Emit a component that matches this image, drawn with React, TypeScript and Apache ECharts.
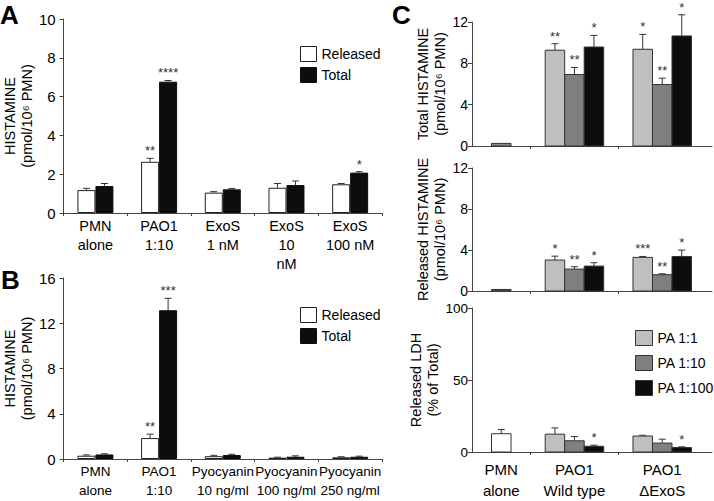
import React, { useEffect, useRef } from "react";
import * as echarts from "echarts";

// ---------- Panel A ----------
const A_CATEGORIES = ["PMN\nalone", "PAO1\n1:10", "ExoS\n1 nM", "ExoS\n10\nnM", "ExoS\n100 nM"];
const A_RELEASED = [1.18, 2.64, 1.05, 1.3, 1.48];
const A_RELEASED_ERR = [0.09, 0.18, 0.05, 0.22, 0.04];
const A_TOTAL = [1.39, 6.77, 1.22, 1.44, 2.08];
const A_TOTAL_ERR = [0.13, 0.06, 0.04, 0.21, 0.05];
const A_RELEASED_SIG = ["", "**", "", "", ""];
const A_TOTAL_SIG = ["", "****", "", "", "*"];
const A_Y_MAX = 10;
const A_Y_STEP = 2;

// ---------- Panel B ----------
const B_CATEGORIES = ["PMN\nalone", "PAO1\n1:10", "Pyocyanin\n10 ng/ml", "Pyocyanin\n100 ng/ml", "Pyocyanin\n250 ng/ml"];
const B_RELEASED = [0.29, 1.85, 0.25, 0.12, 0.15];
const B_RELEASED_ERR = [0.07, 0.35, 0.08, 0.04, 0.05];
const B_TOTAL = [0.4, 13.15, 0.35, 0.2, 0.2];
const B_TOTAL_ERR = [0.06, 1.05, 0.07, 0.08, 0.05];
const B_RELEASED_SIG = ["", "**", "", "", ""];
const B_TOTAL_SIG = ["", "***", "", "", ""];
const B_Y_MAX = 16;
const B_Y_STEP = 4;

// ---------- Panel C ----------
const C_GROUPS = ["PMN\nalone", "PAO1\nWild type", "PAO1\n\u0394ExoS"];
const C_GROUP_POS = [1, 3.5, 6.5];
const C_BOUNDARIES = [2, 5];
const C_X_MAX = 8.2;
const C_RATIOS = ["PA 1:1", "PA 1:10", "PA 1:100"];

// Total histamine
const CT_PMN = [0.25, null, null];
const CT_PMN_ERR = [0, null, null];
const CT_PA1 = [null, 9.27, 9.36];
const CT_PA1_ERR = [null, 0.63, 1.44];
const CT_PA1_SIG = ["", "**", "*"];
const CT_PA10 = [null, 6.92, 5.95];
const CT_PA10_ERR = [null, 0.68, 0.61];
const CT_PA10_SIG = ["", "**", "**"];
const CT_PA100 = [null, 9.58, 10.65];
const CT_PA100_ERR = [null, 1.12, 2.05];
const CT_PA100_SIG = ["", "*", "*"];

// Released histamine
const CR_PMN = [0.15, null, null];
const CR_PMN_ERR = [0, null, null];
const CR_PA1 = [null, 3.02, 3.28];
const CR_PA1_ERR = [null, 0.38, 0.09];
const CR_PA1_SIG = ["", "*", "***"];
const CR_PA10 = [null, 2.14, 1.59];
const CR_PA10_ERR = [null, 0.23, 0.09];
const CR_PA10_SIG = ["", "**", "**"];
const CR_PA100 = [null, 2.43, 3.37];
const CR_PA100_ERR = [null, 0.33, 0.62];
const CR_PA100_SIG = ["", "*", "*"];

// Released LDH
const CL_PMN = [12.7, null, null];
const CL_PMN_ERR = [2.9, null, null];
const CL_PA1 = [null, 12.4, 11.1];
const CL_PA1_ERR = [null, 4.3, 0.5];
const CL_PA1_SIG = ["", "", ""];
const CL_PA10 = [null, 7.8, 6.2];
const CL_PA10_ERR = [null, 2.9, 2.7];
const CL_PA10_SIG = ["", "", ""];
const CL_PA100 = [null, 4.0, 3.1];
const CL_PA100_ERR = [null, 0.7, 0.5];
const CL_PA100_SIG = ["", "*", "*"];

const C_HIST_MAX = 12;
const C_HIST_STEP = 4;
const C_LDH_MAX = 100;
const C_LDH_STEP = 50;

// ---------- styling ----------
const FONT = "Liberation Sans, Arial, Helvetica, sans-serif";
const AXIS_COLOR = "#444";
const TEXT_COLOR = "#000";
const AB_BAR_W = 18;
const C_BAR_W = 19.5;
const CAP_W = 7;
const C_COLORS = ["#bfbfbf", "#7f7f7f", "#0d0d0d"];

function yAxisCfg(
  gridIndex: number,
  max: number,
  step: number,
  name: string,
  nameGap: number,
  labelMargin: number,
  labelSize: number
) {
  return {
    type: "value",
    gridIndex,
    min: 0,
    max,
    interval: step,
    name,
    nameLocation: "middle",
    nameRotate: 90,
    nameGap,
    nameTextStyle: { fontFamily: FONT, fontSize: 14.5, lineHeight: 17, color: TEXT_COLOR },
    axisLine: { show: true, lineStyle: { color: AXIS_COLOR, width: 1 } },
    axisTick: { show: true, length: 4, lineStyle: { color: AXIS_COLOR } },
    axisLabel: { fontFamily: FONT, fontSize: labelSize, color: TEXT_COLOR, margin: labelMargin },
    splitLine: { show: false },
  };
}

function errorSeries(
  xAxisIndex: number,
  values: number[],
  errs: number[],
  sigs: string[],
  offset: number
) {
  return {
    type: "custom",
    xAxisIndex,
    yAxisIndex: xAxisIndex,
    z: 5,
    silent: true,
    encode: { x: 0, y: 1 },
    data: values.map((v, i) => [i, v, errs[i]]),
    renderItem: (params: any, api: any) => {
      const i = api.value(0);
      const v = api.value(1);
      const e = api.value(2);
      const top = api.coord([i, v]);
      const tip = api.coord([i, v + e]);
      const cx = top[0] + offset;
      const children: any[] = [];
      if (e > 0) {
        children.push({
          type: "line",
          shape: { x1: cx, y1: top[1], x2: cx, y2: tip[1] },
          style: { stroke: "#333", lineWidth: 1 },
        });
        children.push({
          type: "line",
          shape: { x1: cx - CAP_W / 2, y1: tip[1], x2: cx + CAP_W / 2, y2: tip[1] },
          style: { stroke: "#333", lineWidth: 1 },
        });
      }
      const s = sigs[params.dataIndex];
      if (s) {
        children.push({
          type: "text",
          x: cx,
          y: tip[1] - 1,
          style: { text: s, align: "center", verticalAlign: "bottom", fontSize: 13, fontFamily: FONT, fill: "#333" },
        });
      }
      return { type: "group", children };
    },
  };
}

function cSeries(
  name: string,
  axisIndex: number,
  values: (number | null)[],
  errs: (number | null)[],
  sigs: string[],
  slot: number,
  fill: string
) {
  const data: number[][] = [];
  values.forEach((v, g) => {
    if (v != null) data.push([C_GROUP_POS[g], v, (errs[g] as number) || 0, g]);
  });
  return {
    type: "custom",
    name,
    xAxisIndex: axisIndex,
    yAxisIndex: axisIndex,
    encode: { x: 0, y: 1 },
    itemStyle: { color: fill },
    data,
    renderItem: (params: any, api: any) => {
      const x = api.value(0);
      const v = api.value(1);
      const e = api.value(2);
      const g = api.value(3);
      const base = api.coord([x, 0]);
      const top = api.coord([x, v]);
      const tip = api.coord([x, v + e]);
      const cx = base[0] + slot * C_BAR_W;
      const children: any[] = [
        {
          type: "rect",
          shape: { x: cx - C_BAR_W / 2, y: top[1], width: C_BAR_W, height: base[1] - top[1] },
          style: { fill, stroke: "#333", lineWidth: 1 },
        },
      ];
      if (e > 0) {
        children.push({
          type: "line",
          shape: { x1: cx, y1: top[1], x2: cx, y2: tip[1] },
          style: { stroke: "#333", lineWidth: 1 },
        });
        children.push({
          type: "line",
          shape: { x1: cx - CAP_W / 2, y1: tip[1], x2: cx + CAP_W / 2, y2: tip[1] },
          style: { stroke: "#333", lineWidth: 1 },
        });
      }
      const s = sigs[g];
      if (s) {
        children.push({
          type: "text",
          x: cx,
          y: tip[1] - 1,
          style: { text: s, align: "center", verticalAlign: "bottom", fontSize: 13, fontFamily: FONT, fill: "#333" },
        });
      }
      return { type: "group", children };
    },
  };
}

function cXAxis(gridIndex: number, showLabels: boolean) {
  return {
    type: "value",
    gridIndex,
    min: 0,
    max: C_X_MAX,
    axisLine: { show: true, onZero: false, lineStyle: { color: AXIS_COLOR, width: 1 } },
    axisTick: { show: true, length: 3, customValues: C_BOUNDARIES, lineStyle: { color: AXIS_COLOR } },
    axisLabel: {
      show: showLabels,
      customValues: C_GROUP_POS,
      formatter: (v: number) => {
        const idx = C_GROUP_POS.indexOf(v);
        return idx >= 0 ? C_GROUPS[idx] : "";
      },
      fontFamily: FONT,
      fontSize: 15,
      lineHeight: 21,
      color: TEXT_COLOR,
      margin: 7,
    },
    splitLine: { show: false },
  };
}

function abXAxis(gridIndex: number, cats: string[], fontSize: number) {
  return {
    type: "category",
    gridIndex,
    data: cats,
    axisLine: { show: true, lineStyle: { color: AXIS_COLOR, width: 1 } },
    axisTick: { show: true, length: 3, alignWithLabel: false, lineStyle: { color: AXIS_COLOR } },
    axisLabel: {
      interval: 0,
      hideOverlap: false,
      overflow: "none",
      fontFamily: FONT,
      fontSize,
      lineHeight: 19,
      color: TEXT_COLOR,
      margin: 3,
    },
    splitLine: { show: false },
  };
}

function abBars(axisIndex: number, released: number[], total: number[]) {
  return [
    {
      type: "bar",
      name: "Released",
      xAxisIndex: axisIndex,
      yAxisIndex: axisIndex,
      barWidth: AB_BAR_W,
      barGap: "0%",
      itemStyle: { color: "#ffffff", borderColor: "#222", borderWidth: 1 },
      data: released,
    },
    {
      type: "bar",
      name: "Total",
      xAxisIndex: axisIndex,
      yAxisIndex: axisIndex,
      barWidth: AB_BAR_W,
      barGap: "0%",
      itemStyle: { color: "#0d0d0d", borderColor: "#0d0d0d", borderWidth: 1 },
      data: total,
    },
  ];
}

const legendText = { fontFamily: FONT, fontSize: 14, color: TEXT_COLOR };

export default function App() {
  const ref = useRef<HTMLDivElement>(null);
  useEffect(() => {
    if (!ref.current) return;
    const chart = echarts.init(ref.current, undefined, { renderer: "svg" });
    const option: any = {
      animation: false,
      backgroundColor: "#ffffff",
      textStyle: { fontFamily: FONT },
      grid: [
        { left: 62, top: 19, width: 320, height: 194 },
        { left: 62, top: 278, width: 320, height: 181 },
        { left: 472, top: 22, width: 240, height: 124 },
        { left: 472, top: 168, width: 240, height: 123 },
        { left: 472, top: 308, width: 240, height: 149 },
      ],
      xAxis: [
        abXAxis(0, A_CATEGORIES, 14.5),
        abXAxis(1, B_CATEGORIES, 13.5),
        cXAxis(2, false),
        cXAxis(3, false),
        cXAxis(4, true),
      ],
      yAxis: [
        yAxisCfg(0, A_Y_MAX, A_Y_STEP, "HISTAMINE\n(pmol/10\u2076 PMN)", 27, 8, 15),
        yAxisCfg(1, B_Y_MAX, B_Y_STEP, "HISTAMINE\n(pmol/10\u2076 PMN)", 27, 8, 15),
        yAxisCfg(2, C_HIST_MAX, C_HIST_STEP, "Total HISTAMINE\n(pmol/10\u2076 PMN)", 24, 4, 14),
        yAxisCfg(3, C_HIST_MAX, C_HIST_STEP, "Released HISTAMINE\n(pmol/10\u2076 PMN)", 24, 4, 14),
        yAxisCfg(4, C_LDH_MAX, C_LDH_STEP, "Released LDH\n(% of Total)", 24, 4, 13.5),
      ],
      legend: [
        {
          left: 295,
          top: 41,
          orient: "vertical",
          itemWidth: 16,
          itemHeight: 15,
          itemGap: 5,
          textStyle: legendText,
          data: [
            { name: "Released", icon: "rect", itemStyle: { color: "#fff", borderColor: "#222", borderWidth: 1 } },
            { name: "Total", icon: "rect", itemStyle: { color: "#0d0d0d", borderColor: "#0d0d0d", borderWidth: 1 } },
          ],
        },
        {
          left: 295,
          top: 302,
          orient: "vertical",
          itemWidth: 16,
          itemHeight: 15,
          itemGap: 5,
          textStyle: legendText,
          data: [
            { name: "Released", icon: "rect", itemStyle: { color: "#fff", borderColor: "#222", borderWidth: 1 } },
            { name: "Total", icon: "rect", itemStyle: { color: "#0d0d0d", borderColor: "#0d0d0d", borderWidth: 1 } },
          ],
        },
        {
          left: 630,
          top: 325,
          orient: "vertical",
          itemWidth: 17,
          itemHeight: 15,
          itemGap: 9,
          textStyle: { fontFamily: FONT, fontSize: 14, color: TEXT_COLOR },
          data: C_RATIOS.map((r, i) => ({
            name: r,
            icon: "rect",
            itemStyle: { color: C_COLORS[i], borderColor: "#333", borderWidth: 1 },
          })),
        },
      ],
      graphic: [
        { type: "text", left: 0, top: 2, style: { text: "A", font: `bold 26px ${FONT}`, fill: "#000" } },
        { type: "text", left: 1, top: 267, style: { text: "B", font: `bold 26px ${FONT}`, fill: "#000" } },
        { type: "text", left: 392, top: 2, style: { text: "C", font: `bold 26px ${FONT}`, fill: "#000" } },
      ],
      series: [
        ...abBars(0, A_RELEASED, A_TOTAL),
        errorSeries(0, A_RELEASED, A_RELEASED_ERR, A_RELEASED_SIG, -AB_BAR_W / 2),
        errorSeries(0, A_TOTAL, A_TOTAL_ERR, A_TOTAL_SIG, AB_BAR_W / 2),
        ...abBars(1, B_RELEASED, B_TOTAL),
        errorSeries(1, B_RELEASED, B_RELEASED_ERR, B_RELEASED_SIG, -AB_BAR_W / 2),
        errorSeries(1, B_TOTAL, B_TOTAL_ERR, B_TOTAL_SIG, AB_BAR_W / 2),

        cSeries("PMN alone", 2, CT_PMN, CT_PMN_ERR, ["", "", ""], 0, "#8a8a8a"),
        cSeries(C_RATIOS[0], 2, CT_PA1, CT_PA1_ERR, CT_PA1_SIG, -1, C_COLORS[0]),
        cSeries(C_RATIOS[1], 2, CT_PA10, CT_PA10_ERR, CT_PA10_SIG, 0, C_COLORS[1]),
        cSeries(C_RATIOS[2], 2, CT_PA100, CT_PA100_ERR, CT_PA100_SIG, 1, C_COLORS[2]),

        cSeries("PMN alone", 3, CR_PMN, CR_PMN_ERR, ["", "", ""], 0, "#555555"),
        cSeries(C_RATIOS[0], 3, CR_PA1, CR_PA1_ERR, CR_PA1_SIG, -1, C_COLORS[0]),
        cSeries(C_RATIOS[1], 3, CR_PA10, CR_PA10_ERR, CR_PA10_SIG, 0, C_COLORS[1]),
        cSeries(C_RATIOS[2], 3, CR_PA100, CR_PA100_ERR, CR_PA100_SIG, 1, C_COLORS[2]),

        cSeries("PMN alone", 4, CL_PMN, CL_PMN_ERR, ["", "", ""], 0, "#ffffff"),
        cSeries(C_RATIOS[0], 4, CL_PA1, CL_PA1_ERR, CL_PA1_SIG, -1, C_COLORS[0]),
        cSeries(C_RATIOS[1], 4, CL_PA10, CL_PA10_ERR, CL_PA10_SIG, 0, C_COLORS[1]),
        cSeries(C_RATIOS[2], 4, CL_PA100, CL_PA100_ERR, CL_PA100_SIG, 1, C_COLORS[2]),
      ],
    };
    chart.setOption(option);
    return () => {
      chart.dispose();
    };
  }, []);
  return (
    <div
      ref={ref}
      style={{ position: "fixed", left: 0, top: 0, width: 714, height: 501, background: "#fff" }}
    />
  );
}
